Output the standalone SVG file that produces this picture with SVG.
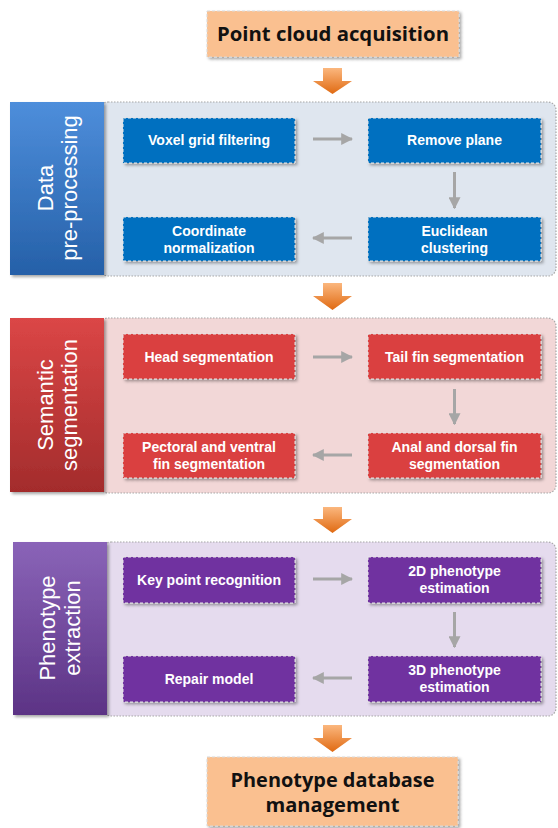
<svg xmlns="http://www.w3.org/2000/svg" width="558" height="828" viewBox="0 0 558 828">
<defs>
<linearGradient id="gOr" x1="0" y1="0" x2="0" y2="1"><stop offset="0" stop-color="#FBB77E"/><stop offset="1" stop-color="#E06A12"/></linearGradient>
<linearGradient id="gBlue" x1="0" y1="0" x2="0" y2="1"><stop offset="0" stop-color="#4E8EDB"/><stop offset="1" stop-color="#2560A8"/></linearGradient>
<linearGradient id="gRed" x1="0" y1="0" x2="0" y2="1"><stop offset="0" stop-color="#DB4646"/><stop offset="1" stop-color="#A32C2C"/></linearGradient>
<linearGradient id="gPur" x1="0" y1="0" x2="0" y2="1"><stop offset="0" stop-color="#8A64B8"/><stop offset="1" stop-color="#5C3385"/></linearGradient>
<filter id="sh" x="-10%" y="-10%" width="130%" height="130%"><feDropShadow dx="2" dy="2" stdDeviation="1.5" flood-color="#000" flood-opacity="0.35"/></filter>
<marker id="ah" viewBox="0 0 10 10" refX="9" refY="5" markerWidth="4" markerHeight="4" orient="auto-start-reverse" markerUnits="strokeWidth"><path d="M0,0 L10,5 L0,10 z" fill="#A6A6A6"/></marker>
</defs>
<style>
.big{font-family:"Open Sans","Noto Sans","Liberation Sans",sans-serif;font-weight:bold;font-size:20px;fill:#111;text-anchor:middle}
.obox{fill:#FAC090;stroke:#D9D9D9;stroke-width:1;stroke-dasharray:3 2}
.cont{stroke:#A6A6A6;stroke-width:1.2;stroke-dasharray:1.5 1.5}
.side{font-family:"Liberation Sans",Arial,sans-serif;font-size:22px;fill:#fff;text-anchor:middle}
.node{stroke:#E8E8E8;stroke-width:1;stroke-dasharray:3 2}
.nt{font-family:"Liberation Sans",Arial,sans-serif;font-weight:bold;font-size:14px;fill:#fff;text-anchor:middle}
.con{stroke:#A6A6A6;stroke-width:3;fill:none}
.bl{fill:#0070C0}.rd{fill:#DA4141}.pu{fill:#7030A0}
</style>

<g id="acq"><rect class="obox" x="207" y="11" width="252" height="46" filter="url(#sh)"/><text class="big" x="333" y="41" textLength="232" lengthAdjust="spacingAndGlyphs">Point cloud acquisition</text></g>

<g id="flow-arrows">
<path d="M323,68 H342 V81 H352 L332.5,94 L313,81 H323 Z" fill="url(#gOr)"/>
<path d="M323,283 H342 V296 H352 L332.5,310 L313,296 H323 Z" fill="url(#gOr)"/>
<path d="M323,507 H342 V519 H352 L332.5,533 L313,519 H323 Z" fill="url(#gOr)"/>
<path d="M323,725 H342 V738 H352 L332.5,752 L313,738 H323 Z" fill="url(#gOr)"/>
</g>

<!-- Data pre-processing -->
<g id="sec-pre">
<rect class="cont" x="100" y="102" width="456" height="174" rx="8" fill="#DFE6EF"/>
<rect x="10" y="102" width="94" height="173" fill="url(#gBlue)" filter="url(#sh)"/>
<g transform="translate(57,188) rotate(-90)"><text class="side" x="0" y="-4">Data</text><text class="side" x="0" y="20">pre-processing</text></g>
</g>
<g id="voxel"><rect class="node bl" x="123" y="118" width="172" height="45" filter="url(#sh)"/><text class="nt" x="209" y="145">Voxel grid filtering</text></g>
<g id="plane"><rect class="node bl" x="368" y="118" width="173" height="45" filter="url(#sh)"/><text class="nt" x="454.5" y="145">Remove plane</text></g>
<g id="eucl"><rect class="node bl" x="368" y="217" width="173" height="44" filter="url(#sh)"/><text class="nt" x="454.5" y="236">Euclidean</text><text class="nt" x="454.5" y="253">clustering</text></g>
<g id="coord"><rect class="node bl" x="123" y="217" width="172" height="44" filter="url(#sh)"/><text class="nt" x="209" y="236">Coordinate</text><text class="nt" x="209" y="253">normalization</text></g>

<!-- Semantic segmentation -->
<g id="sec-sem">
<rect class="cont" x="100" y="318" width="456" height="175" rx="8" fill="#F2D7D7"/>
<rect x="10" y="318" width="94" height="174" fill="url(#gRed)" filter="url(#sh)"/>
<g transform="translate(57,405) rotate(-90)"><text class="side" x="0" y="-4">Semantic</text><text class="side" x="0" y="20">segmentation</text></g>
</g>
<g id="head"><rect class="node rd" x="123" y="334" width="172" height="45" filter="url(#sh)"/><text class="nt" x="209" y="361.5">Head segmentation</text></g>
<g id="tail"><rect class="node rd" x="368" y="334" width="173" height="45" filter="url(#sh)"/><text class="nt" x="454.5" y="361.5">Tail fin segmentation</text></g>
<g id="anal"><rect class="node rd" x="368" y="433" width="173" height="45" filter="url(#sh)"/><text class="nt" x="454.5" y="452">Anal and dorsal fin</text><text class="nt" x="454.5" y="469">segmentation</text></g>
<g id="pect"><rect class="node rd" x="123" y="433" width="172" height="45" filter="url(#sh)"/><text class="nt" x="209" y="452">Pectoral and ventral</text><text class="nt" x="209" y="469">fin segmentation</text></g>

<!-- Phenotype extraction -->
<g id="sec-phe">
<rect class="cont" x="103" y="542" width="453" height="174" rx="8" fill="#E5DBEE"/>
<rect x="13" y="542" width="94" height="173" fill="url(#gPur)" filter="url(#sh)"/>
<g transform="translate(60,628) rotate(-90)"><text class="side" x="0" y="-5">Phenotype</text><text class="side" x="0" y="20">extraction</text></g>
</g>
<g id="key"><rect class="node pu" x="123" y="557" width="172" height="46" filter="url(#sh)"/><text class="nt" x="209" y="585">Key point recognition</text></g>
<g id="p2d"><rect class="node pu" x="368" y="557" width="173" height="46" filter="url(#sh)"/><text class="nt" x="454.5" y="576">2D phenotype</text><text class="nt" x="454.5" y="593">estimation</text></g>
<g id="p3d"><rect class="node pu" x="368" y="656" width="173" height="46" filter="url(#sh)"/><text class="nt" x="454.5" y="675">3D phenotype</text><text class="nt" x="454.5" y="692">estimation</text></g>
<g id="repair"><rect class="node pu" x="123" y="656" width="172" height="46" filter="url(#sh)"/><text class="nt" x="209" y="684">Repair model</text></g>

<g id="connectors">
<line class="con" x1="313" y1="139" x2="352" y2="139" marker-end="url(#ah)"/>
<line class="con" x1="454.5" y1="172" x2="454.5" y2="208" marker-end="url(#ah)"/>
<line class="con" x1="352" y1="238" x2="313" y2="238" marker-end="url(#ah)"/>
<line class="con" x1="313" y1="357" x2="352" y2="357" marker-end="url(#ah)"/>
<line class="con" x1="454.5" y1="389" x2="454.5" y2="424" marker-end="url(#ah)"/>
<line class="con" x1="352" y1="455" x2="313" y2="455" marker-end="url(#ah)"/>
<line class="con" x1="313" y1="579" x2="352" y2="579" marker-end="url(#ah)"/>
<line class="con" x1="454.5" y1="612" x2="454.5" y2="647" marker-end="url(#ah)"/>
<line class="con" x1="352" y1="678" x2="313" y2="678" marker-end="url(#ah)"/>
</g>

<g id="db"><rect class="obox" x="207" y="757" width="251" height="69" filter="url(#sh)"/><text class="big" x="332.5" y="787" textLength="204" lengthAdjust="spacingAndGlyphs">Phenotype database</text><text class="big" x="332.5" y="812" textLength="134" lengthAdjust="spacingAndGlyphs">management</text></g>
</svg>
